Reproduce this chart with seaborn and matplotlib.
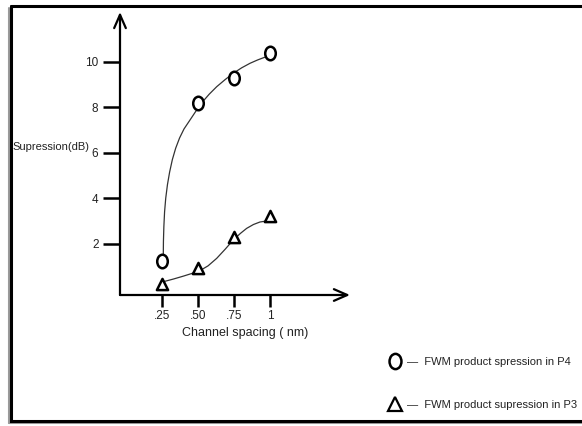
import matplotlib
matplotlib.use("Agg")
import numpy as np
import pandas as pd
import seaborn as sns
import matplotlib.pyplot as plt
from matplotlib.lines import Line2D
from matplotlib.path import Path
from matplotlib.transforms import Affine2D

# ---------------- data ----------------
spacing = [0.25, 0.50, 0.75, 1.0]
p4_supp = [1.25, 8.2, 9.3, 10.4]
p3_supp = [0.22, 0.93, 2.3, 3.2]

# hand-drawn trend curves as they appear in the picture
p4_curve_x = [0.259, 0.260, 0.263, 0.268, 0.276, 0.288, 0.303, 0.322, 0.345, 0.372,
              0.403, 0.440, 0.482, 0.526, 0.578, 0.630, 0.688, 0.745, 0.803, 0.861, 0.915, 0.965]
p4_curve_y = [1.50, 2.10, 2.75, 3.40, 4.00, 4.60, 5.15, 5.70, 6.20, 6.65,
              7.05, 7.40, 7.80, 8.20, 8.58, 8.91, 9.22, 9.50, 9.74, 9.94, 10.09, 10.21]
p3_curve_x = [0.259, 0.330, 0.400, 0.460, 0.514, 0.570, 0.630, 0.690, 0.745, 0.795,
              0.838, 0.885, 0.930, 0.970, 1.0]
p3_curve_y = [0.32, 0.44, 0.57, 0.69, 0.81, 1.02, 1.35, 1.76, 2.16, 2.45,
              2.67, 2.84, 2.95, 2.99, 3.0]

x_ticks = [0.25, 0.50, 0.75, 1.0]
x_tick_labels = [".25", ".50", ".75", "1"]
y_ticks = [2, 4, 6, 8, 10]
y_tick_labels = ["2", "4", "6", "8", "10"]
x_label = "Channel spacing ( nm)"
y_label = "Supression(dB)"
legend_labels = ["\u2014  FWM product spression in P4",
                 "\u2014  FWM product supression in P3"]

# ---------------- style ----------------
sns.set_theme(style="white")
plt.rcParams["font.family"] = ["Liberation Sans", "DejaVu Sans"]
FS = 8
TXT = "#222222"

W, H = 582, 426
fig = plt.figure(figsize=(W / 100, H / 100), dpi=100)
fig.patch.set_facecolor("white")

# outer frame (with a grey shadow)
L, T, B = 11, 6, 421
fig.add_artist(Line2D([(L - 2) / W, (L - 2) / W], [1 - (T + 2) / H, 1 - (B + 2) / H],
                      color="#9a9a9a", lw=1.5))
fig.add_artist(Line2D([(L - 2) / W, 1.02], [1 - (B + 2) / H, 1 - (B + 2) / H],
                      color="#9a9a9a", lw=1.5))
fig.add_artist(Line2D([L / W, L / W, 1.02], [1 - T / H, 1 - B / H, 1 - B / H],
                      color="black", lw=2.2, solid_joinstyle="miter"))
fig.add_artist(Line2D([L / W, 1.02], [1 - T / H, 1 - T / H], color="black", lw=2.2))

# axes placement
ax_l, ax_r, ax_t, ax_b = 120, 350, 12, 295
ax = fig.add_axes([ax_l / W, 1 - ax_b / H, (ax_r - ax_l) / W, (ax_b - ax_t) / H])
ax.set_facecolor("none")
ax.set_xlim(-0.0417, 1.556)
ax.set_ylim(-0.264, 12.2)
for s in ax.spines.values():
    s.set_visible(False)

# axis arrows
arrow = dict(arrowstyle="->,head_length=0.8,head_width=0.35", lw=1.6, color="black",
             shrinkA=0, shrinkB=0)
ax.annotate("", xy=(0, 1), xytext=(0, 0), xycoords="axes fraction", arrowprops=arrow)
ax.annotate("", xy=(1, 0), xytext=(0, 0), xycoords="axes fraction", arrowprops=arrow)

# curves
c4 = pd.DataFrame({"x": p4_curve_x, "y": p4_curve_y})
c3 = pd.DataFrame({"x": p3_curve_x, "y": p3_curve_y})
sns.lineplot(data=c4, x="x", y="y", ax=ax, sort=False, color="#333333", lw=0.9, estimator=None)
sns.lineplot(data=c3, x="x", y="y", ax=ax, sort=False, color="#333333", lw=0.9, estimator=None)

# markers
ellipse = Path(Affine2D().scale(0.78, 1.0).transform(Path.unit_circle().vertices),
               Path.unit_circle().codes)
d4 = pd.DataFrame({"x": spacing, "y": p4_supp})
d3 = pd.DataFrame({"x": spacing, "y": p3_supp})
sns.scatterplot(data=d4, x="x", y="y", ax=ax, marker=ellipse, s=95,
                facecolor="white", edgecolor="black", linewidth=1.8, zorder=5)
sns.scatterplot(data=d3, x="x", y="y", ax=ax, marker="^", s=65,
                facecolor="white", edgecolor="black", linewidth=1.8, zorder=5)

ax.set_xticks(x_ticks)
ax.set_xticklabels(x_tick_labels, fontsize=8.5, color=TXT)
ax.set_yticks(y_ticks)
ax.set_yticklabels(y_tick_labels, fontsize=8.5, color=TXT)
ax.tick_params(axis="y", direction="out", length=12.5, width=1.8, pad=3, left=True, color="black")
ax.tick_params(axis="x", direction="out", length=8.5, width=1.8, pad=2, bottom=True, color="black")
ax.set_xlabel("")
ax.set_ylabel("")

fig.text(12 / W, 1 - 147 / H, y_label, fontsize=FS, ha="left", va="center", color=TXT)
fig.text(182 / W, 1 - 333 / H, x_label, fontsize=9, ha="left", va="center", color=TXT)

# legend
handles = [Line2D([], [], ls="none", marker=ellipse, markersize=11, markerfacecolor="white",
                  markeredgecolor="black", markeredgewidth=1.8),
           Line2D([], [], ls="none", marker="^", markersize=10, markerfacecolor="white",
                  markeredgecolor="black", markeredgewidth=1.6)]
leg = fig.legend(handles, legend_labels, loc="upper left", bbox_to_anchor=(389 / W, 1 - 357 / H),
                 frameon=False, fontsize=8, handlelength=1.0, handletextpad=0.6,
                 labelspacing=3.0, borderpad=0, borderaxespad=0)
for t in leg.get_texts():
    t.set_color(TXT)

fig.savefig("out.png", dpi=100, facecolor="white")
